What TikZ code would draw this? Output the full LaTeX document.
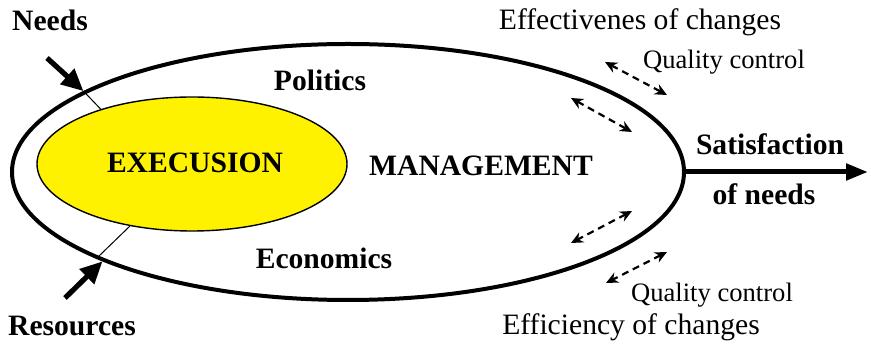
\documentclass[tikz,border=0pt]{standalone}
\usepackage{fontspec}
\setmainfont{Liberation Serif}
\usetikzlibrary{arrows.meta, shapes.geometric}

\begin{document}
\begin{tikzpicture}[x=0.5pt, y=-0.5pt,
    boldlabel/.style={font=\fontsize{14.8}{16}\selectfont\bfseries, inner sep=0pt},
    plainlabel/.style={font=\fontsize{14.8}{16}\selectfont, inner sep=0pt},
    qclabel/.style={font=\fontsize{13.3}{15}\selectfont, inner sep=0pt},
    qcarrow/.style={{Stealth[length=6pt,width=5.5pt]}-{Stealth[length=6pt,width=5.5pt]}, line width=1.1pt, dash pattern=on 3.5pt off 2.5pt},
    inarrow/.style={-{Triangle[length=11pt,width=10pt]}, line width=2.6pt}]
  \useasboundingbox (0,0) rectangle (871,346);

  \node[ellipse, draw, line width=2pt, minimum width=336pt, minimum height=128pt, inner sep=0pt] (mgmt) at (348,172) {};
  \node[ellipse, draw, line width=0.7pt, fill=yellow, minimum width=155pt, minimum height=67pt, inner sep=0pt] (exec) at (192,164) {};

  \node[boldlabel] (execlabel) at (195,163) {EXECUSION};
  \node[boldlabel] (mgmtlabel) at (481,166) {MANAGEMENT};
  \node[boldlabel, anchor=base] (politics) at (320,91) {Politics};
  \node[boldlabel, anchor=base] (economics) at (324,269) {Economics};
  \node[boldlabel, anchor=base] (needs) at (50,31) {Needs};
  \node[boldlabel, anchor=base] (resources) at (72,336) {Resources};
  \node[boldlabel, anchor=base] (satis) at (770,155) {Satisfaction};
  \node[boldlabel, anchor=base] (ofneeds) at (764,205) {of needs};

  \node[plainlabel, anchor=base] (effect) at (640,30) {Effectivenes of changes};
  \node[plainlabel, anchor=base] (effic) at (631,335) {Efficiency of changes};
  \node[qclabel, anchor=base] (qctop) at (724,69) {Quality control};
  \node[qclabel, anchor=base] (qcbottom) at (712,302) {Quality control};

  % inputs
  \coordinate (needsfrom) at (47,58);
  \coordinate (resfrom) at (65,298);
  \draw[inarrow] (needsfrom) -- (mgmt.163.4);
  \draw[line width=0.5pt] (mgmt.163.4) -- (exec.149.6);
  \draw[inarrow] (resfrom) -- (mgmt.200.6);
  \draw[line width=0.5pt] (mgmt.199.8) -- (exec.225.9);

  % output
  \coordinate (satisend) at (868,172);
  \draw[-{Triangle[length=11pt,width=8pt]}, line width=2.5pt] (mgmt.east) -- (satisend);

  % quality control
  \coordinate (qa1) at (605,62);  \coordinate (qb1) at (667,95);
  \coordinate (qa2) at (571,98);  \coordinate (qb2) at (632,132);
  \coordinate (qa3) at (632,211); \coordinate (qb3) at (571,243);
  \coordinate (qa4) at (667,252); \coordinate (qb4) at (606,283);
  \draw[qcarrow] (qa1) -- (qb1);
  \draw[qcarrow] (qa2) -- (qb2);
  \draw[qcarrow] (qa3) -- (qb3);
  \draw[qcarrow] (qa4) -- (qb4);
\end{tikzpicture}
\end{document}
